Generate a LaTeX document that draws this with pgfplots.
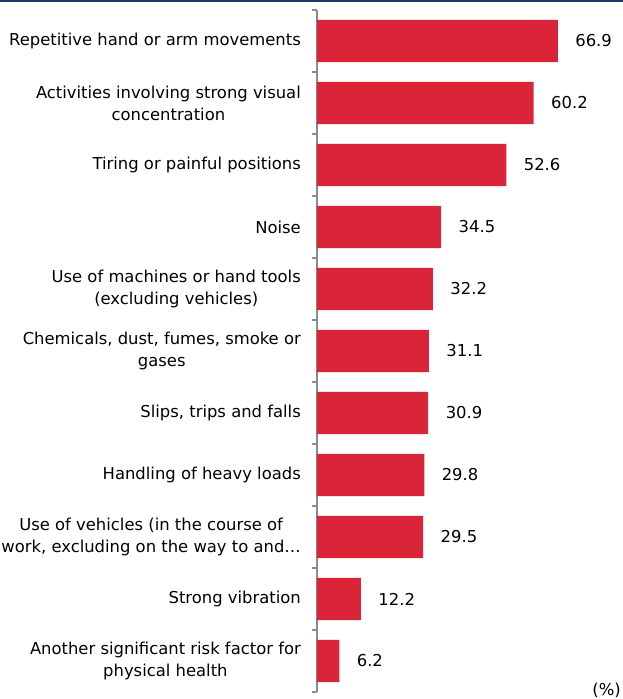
\documentclass[border=0pt]{standalone}
\usepackage{fontspec}
\setmainfont{DejaVu Sans}
\usepackage{pgfplots}
\pgfplotsset{compat=1.18}
\definecolor{barred}{RGB}{218,37,57}
\definecolor{navy}{RGB}{31,56,100}
\definecolor{axgray}{RGB}{140,140,140}
\begin{document}
\begin{tikzpicture}[x=1pt,y=1pt]
\useasboundingbox (0,0) rectangle (623,699);
\fill[navy] (0,697) rectangle (623,699);
\begin{axis}[
  at={(317pt,7pt)}, anchor=south west,
  scale only axis,
  width=306pt, height=682pt,
  xmin=0, xmax=85,
  ymin=-0.5, ymax=10.5,
  y dir=reverse,
  axis x line=none,
  axis y line*=left,
  axis line style={axgray, line width=1.3pt},
  xbar, bar width=0.68,
  bar shift=0pt,
  ytick={0,...,10},
  yticklabels={
    {Repetitive hand or arm movements},
    {Activities involving strong visual\\concentration},
    {Tiring or painful positions},
    {Noise},
    {Use of machines or hand tools\\(excluding vehicles)},
    {Chemicals, dust, fumes, smoke or\\gases},
    {Slips, trips and falls},
    {Handling of heavy loads},
    {Use of vehicles (in the course of\\work, excluding on the way to and…},
    {Strong vibration},
    {Another significant risk factor for\\physical health}},
  major tick length=0pt,
  minor ytick={-0.5,0.5,...,10.5},
  minor tick length=5pt,
  tick align=outside,
  tick style={axgray, line width=1.3pt},
  yticklabel style={align=center, font={\fontsize{16.4}{22}\selectfont}, inner sep=0pt, xshift=-16pt},
  nodes near coords,
  nodes near coords style={font={\fontsize{16.4}{19}\selectfont}, black, anchor=west, xshift=14pt,
    /pgf/number format/.cd, fixed, fixed zerofill, precision=1, assume math mode=true},
  clip=false,
]
\addplot[fill=barred, draw=none] coordinates {
  (66.9,0) (60.2,1) (52.6,2) (34.5,3) (32.2,4) (31.1,5) (30.9,6) (29.8,7) (29.5,8) (12.2,9) (6.2,10)
};
\end{axis}
\node[anchor=south east, font={\fontsize{16.4}{19}\selectfont}, inner sep=0pt] at (621,1) {(\%)};
\end{tikzpicture}
\end{document}
